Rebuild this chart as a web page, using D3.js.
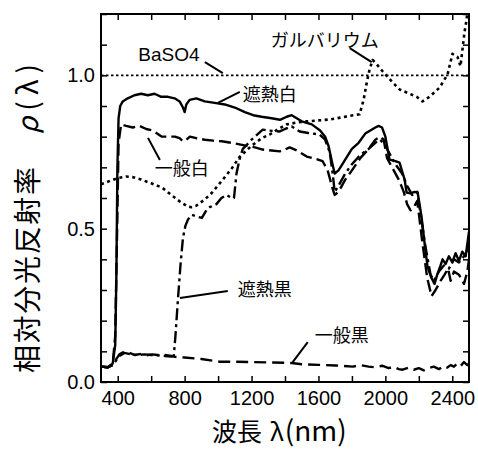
<!DOCTYPE html>
<html>
<head>
<meta charset="utf-8">
<script src="https://cdn.jsdelivr.net/npm/d3@7"></script>
<style>
  body { margin: 0; background: #fff; }
  svg { display: block; }
</style>
</head>
<body>
<div id="chart"></div>
<script>
// Spectral reflectance of roof coatings

// 遮熱白 (solid)
const whiteShieldNm = [300, 340, 370, 385, 392, 398, 405, 415, 430, 460, 500, 540, 580, 620, 660, 700, 740, 770, 790, 800, 810, 830, 870, 920, 980, 1040, 1100, 1160, 1210, 1260, 1320, 1370, 1410, 1440, 1470, 1500, 1560, 1610, 1640, 1660, 1680, 1697, 1720, 1760, 1800, 1840, 1880, 1910, 1940, 1960, 1980, 2000, 2025, 2060, 2085, 2115, 2127, 2150, 2175, 2193, 2216, 2235, 2252, 2275, 2294, 2310, 2330, 2342, 2360, 2380, 2400, 2420, 2440, 2460, 2480, 2490, 2500];
const whiteShield = [0.05, 0.048, 0.06, 0.12, 0.35, 0.70, 0.86, 0.90, 0.915, 0.925, 0.935, 0.94, 0.935, 0.94, 0.93, 0.93, 0.925, 0.915, 0.895, 0.88, 0.905, 0.92, 0.925, 0.915, 0.91, 0.905, 0.895, 0.88, 0.87, 0.865, 0.86, 0.855, 0.865, 0.87, 0.86, 0.85, 0.84, 0.82, 0.80, 0.77, 0.72, 0.68, 0.69, 0.725, 0.76, 0.78, 0.81, 0.82, 0.83, 0.835, 0.83, 0.80, 0.725, 0.72, 0.715, 0.66, 0.618, 0.615, 0.62, 0.618, 0.54, 0.45, 0.376, 0.34, 0.32, 0.35, 0.38, 0.40, 0.385, 0.41, 0.39, 0.42, 0.395, 0.425, 0.41, 0.45, 0.49];

// 一般白 (dashed)
const whiteNormalNm = [300, 340, 370, 385, 395, 405, 420, 450, 490, 530, 570, 610, 664, 700, 742, 770, 790, 810, 831, 870, 921, 970, 1022, 1080, 1172, 1220, 1267, 1320, 1369, 1400, 1428, 1470, 1530, 1580, 1625, 1655, 1685, 1697, 1720, 1760, 1800, 1850, 1900, 1940, 1970, 1990, 2010, 2040, 2080, 2110, 2130, 2150, 2170, 2190, 2200, 2220, 2250, 2276, 2300, 2330, 2354, 2375, 2390, 2410, 2440, 2470, 2490, 2500];
const whiteNormal = [0.05, 0.048, 0.06, 0.15, 0.45, 0.78, 0.84, 0.835, 0.83, 0.835, 0.825, 0.82, 0.80, 0.80, 0.80, 0.795, 0.785, 0.79, 0.80, 0.795, 0.79, 0.787, 0.785, 0.78, 0.77, 0.765, 0.758, 0.755, 0.752, 0.758, 0.765, 0.755, 0.735, 0.728, 0.72, 0.69, 0.63, 0.61, 0.62, 0.66, 0.69, 0.73, 0.76, 0.79, 0.80, 0.79, 0.73, 0.70, 0.66, 0.62, 0.58, 0.56, 0.57, 0.59, 0.55, 0.46, 0.34, 0.28, 0.30, 0.33, 0.35, 0.37, 0.33, 0.36, 0.35, 0.32, 0.36, 0.40];

// 遮熱黒 (dash-dot)
const blackShieldNm = [300, 340, 370, 390, 410, 440, 480, 520, 560, 600, 640, 680, 720, 735, 745, 760, 775, 790, 805, 820, 843, 870, 903, 930, 950, 990, 1020, 1050, 1080, 1095, 1110, 1130, 1148, 1200, 1267, 1300, 1369, 1400, 1440, 1488, 1540, 1607, 1640, 1667, 1685, 1697, 1720, 1760, 1800, 1850, 1900, 1940, 1970, 2000, 2030, 2060, 2100, 2130, 2160, 2190, 2210, 2240, 2270, 2290, 2320, 2350, 2380, 2410, 2440, 2470, 2500];
const blackShield = [0.05, 0.048, 0.055, 0.07, 0.085, 0.095, 0.09, 0.088, 0.09, 0.088, 0.087, 0.085, 0.083, 0.085, 0.15, 0.27, 0.38, 0.47, 0.51, 0.53, 0.545, 0.54, 0.535, 0.56, 0.57, 0.58, 0.60, 0.61, 0.60, 0.60, 0.68, 0.73, 0.76, 0.79, 0.823, 0.82, 0.817, 0.825, 0.833, 0.817, 0.812, 0.807, 0.79, 0.75, 0.68, 0.62, 0.64, 0.68, 0.71, 0.74, 0.76, 0.78, 0.79, 0.77, 0.74, 0.71, 0.68, 0.64, 0.61, 0.62, 0.55, 0.44, 0.35, 0.33, 0.36, 0.38, 0.37, 0.40, 0.39, 0.41, 0.44];

// ガルバリウム (dotted)
const galvaNm = [300, 350, 400, 450, 490, 540, 600, 665, 720, 780, 820, 840, 870, 920, 963, 1028, 1080, 1130, 1200, 1260, 1309, 1360, 1410, 1470, 1530, 1600, 1667, 1730, 1787, 1846, 1870, 1890, 1906, 1924, 1950, 1984, 2043, 2085, 2127, 2187, 2222, 2264, 2324, 2372, 2401, 2431, 2449, 2473, 2485, 2500];
const galva = [0.645, 0.655, 0.665, 0.67, 0.668, 0.66, 0.648, 0.634, 0.61, 0.585, 0.572, 0.57, 0.575, 0.595, 0.617, 0.66, 0.695, 0.735, 0.77, 0.795, 0.807, 0.825, 0.84, 0.846, 0.85, 0.853, 0.856, 0.862, 0.868, 0.873, 0.92, 0.98, 1.02, 1.05, 1.035, 1.013, 0.977, 0.954, 0.944, 0.93, 0.915, 0.93, 0.96, 1.003, 1.07, 1.06, 1.03, 1.14, 1.18, 1.25];

// 一般黒 (dashed)
const blackNormalNm = [300, 340, 370, 395, 410, 443, 470, 503, 540, 570, 605, 640, 682, 720, 742, 800, 900, 1010, 1100, 1200, 1300, 1440, 1500, 1600, 1700, 1805, 1850, 1900, 1940, 1980, 2020, 2050, 2080, 2103, 2140, 2170, 2200, 2230, 2260, 2290, 2320, 2350, 2370, 2390, 2410, 2430, 2450, 2470, 2490, 2500];
const blackNormal = [0.05, 0.048, 0.055, 0.078, 0.09, 0.10, 0.095, 0.088, 0.092, 0.087, 0.09, 0.088, 0.088, 0.085, 0.082, 0.08, 0.075, 0.066, 0.066, 0.065, 0.064, 0.062, 0.058, 0.056, 0.054, 0.05, 0.055, 0.05, 0.048, 0.053, 0.045, 0.05, 0.042, 0.04, 0.047, 0.04, 0.045, 0.038, 0.046, 0.05, 0.042, 0.052, 0.047, 0.055, 0.05, 0.06, 0.052, 0.065, 0.055, 0.06];

// BaSO4 reference (dense dots at 1.0)
const baso4Nm = [300, 2500];
const baso4 = [1.0, 1.0];

// Ticks
const X_TICKS = [400, 600, 800, 1000, 1200, 1400, 1600, 1800, 2000, 2200, 2400];
const X_LABELS = [400, 800, 1200, 1600, 2000, 2400];
const Y_TICKS = [0, 0.1, 0.2, 0.3, 0.4, 0.5, 0.6, 0.7, 0.8, 0.9, 1.0, 1.1, 1.2];
const Y_LABELS = [0, 0.5, 1.0];

// Annotations: label text, label anchor (nm, rho), leader from -> to (nm, rho)
const ANNOTATIONS = [
    { text: "BaSO4", x: 706, y: 1.047, anchor: "middle", latin: true, leader: [[921, 1.043], [1028, 1.007]] },
    { text: "ガルバリウム", x: 1637, y: 1.092, anchor: "middle", leader: [[1787, 1.089], [1918, 1.043]] },
    { text: "遮熱白", x: 1148, y: 0.916, anchor: "start", leader: [[1130, 0.946], [999, 0.910]] },
    { text: "一般白", x: 622, y: 0.675, anchor: "start", leader: [[581, 0.796], [652, 0.724]] },
    { text: "遮熱黒", x: 1118, y: 0.280, anchor: "start", leader: [[772, 0.274], [1058, 0.297]] },
    { text: "一般黒", x: 1578, y: 0.130, anchor: "start", leader: [[1446, 0.065], [1536, 0.130]] }
];

function drawChart() {
    const width = 478, height = 450;
    const margin = { top: 14, right: 9, bottom: 68, left: 101 };
    const w = width - margin.left - margin.right;
    const h = height - margin.top - margin.bottom;

    const svg = d3.select("#chart").append("svg")
        .attr("width", width)
        .attr("height", height);

    const g = svg.append("g")
        .attr("transform", `translate(${margin.left},${margin.top})`);

    const x = d3.scaleLinear().domain([300, 2500]).range([0, w]);
    const y = d3.scaleLinear().domain([0, 1.2]).range([h, 0]);

    g.append("clipPath")
        .attr("id", "plot-clip")
        .append("rect")
        .attr("width", w)
        .attr("height", h);

    const numFont = "'Liberation Sans', Arial, sans-serif";
    const jpFont = "'Noto Sans CJK JP', 'Noto Sans', sans-serif";

    // Axes, ticks pointing inward
    g.append("g")
        .attr("transform", `translate(0,${h})`)
        .call(d3.axisBottom(x).tickValues(X_TICKS).tickSize(-6).tickPadding(9)
            .tickFormat(d => X_LABELS.includes(d) ? d : ""));
    g.append("g")
        .call(d3.axisTop(x).tickValues(X_TICKS).tickSize(-6).tickFormat(""));
    g.append("g")
        .call(d3.axisLeft(y).tickValues(Y_TICKS).tickSize(-6).tickPadding(6)
            .tickFormat(d => Y_LABELS.includes(d) ? d3.format(".1f")(d) : ""));
    g.append("g")
        .attr("transform", `translate(${w},0)`)
        .call(d3.axisRight(y).tickValues(Y_TICKS).tickSize(-6).tickFormat(""));

    g.selectAll(".domain").remove();
    g.selectAll(".tick line")
        .attr("stroke", "#000")
        .attr("stroke-width", 1.5);
    g.selectAll(".tick text")
        .style("font-family", numFont)
        .style("font-size", "20px")
        .attr("fill", "#000");

    // Frame
    g.append("rect")
        .attr("width", w)
        .attr("height", h)
        .attr("fill", "none")
        .attr("stroke", "#000")
        .attr("stroke-width", 2);

    // Curves
    const series = [
        { nm: baso4Nm, v: baso4, dash: "2.5,2.5", sw: 1.6 },
        { nm: galvaNm, v: galva, dash: "3,3.5", sw: 2.6 },
        { nm: blackNormalNm, v: blackNormal, dash: "12,6", sw: 2.4 },
        { nm: blackShieldNm, v: blackShield, dash: "12,4,3,4", sw: 2.4 },
        { nm: whiteNormalNm, v: whiteNormal, dash: "12,5", sw: 2.4 },
        { nm: whiteShieldNm, v: whiteShield, dash: null, sw: 2.4 }
    ];

    const line = d3.line()
        .x(d => x(d[0]))
        .y(d => y(d[1]));

    const plot = g.append("g").attr("clip-path", "url(#plot-clip)");

    series.forEach(s => {
        plot.append("path")
            .datum(d3.zip(s.nm, s.v))
            .attr("fill", "none")
            .attr("stroke", "#000")
            .attr("stroke-width", s.sw)
            .attr("stroke-linejoin", "round")
            .attr("stroke-dasharray", s.dash)
            .attr("d", line);
    });

    // Labels and leader lines
    ANNOTATIONS.forEach(a => {
        g.append("line")
            .attr("x1", x(a.leader[0][0]))
            .attr("y1", y(a.leader[0][1]))
            .attr("x2", x(a.leader[1][0]))
            .attr("y2", y(a.leader[1][1]))
            .attr("stroke", "#000")
            .attr("stroke-width", 2);

        g.append("text")
            .attr("x", x(a.x))
            .attr("y", y(a.y))
            .attr("text-anchor", a.anchor)
            .style("font-family", a.latin ? numFont : jpFont)
            .style("font-size", a.latin ? "19px" : "18px")
            .text(a.text);
    });

    // Axis titles
    svg.append("text")
        .attr("transform", "translate(38,373) rotate(-90)")
        .attr("textLength", 206)
        .attr("lengthAdjust", "spacing")
        .style("font-family", jpFont)
        .style("font-size", "28px")
        .text("相対分光反射率");

    const rho = svg.append("text")
        .attr("transform", "translate(38,134) rotate(-90)")
        .attr("textLength", 70)
        .attr("lengthAdjust", "spacing")
        .style("font-family", jpFont)
        .style("font-size", "28px");
    rho.append("tspan").style("font-style", "italic").text("ρ");
    rho.append("tspan").text("(λ)");

    // x title: one text element, gap before λ via dx
    const xTitle = svg.append("text")
        .attr("x", 212)
        .attr("y", 441)
        .style("font-family", jpFont)
        .style("font-size", "25px");
    xTitle.append("tspan").text("波長");
    xTitle.append("tspan").attr("dx", 8).text("λ");
    xTitle.append("tspan").attr("dx", 1).style("font-size", "28px").text("(nm)");
}

drawChart();
</script>
</body>
</html>
